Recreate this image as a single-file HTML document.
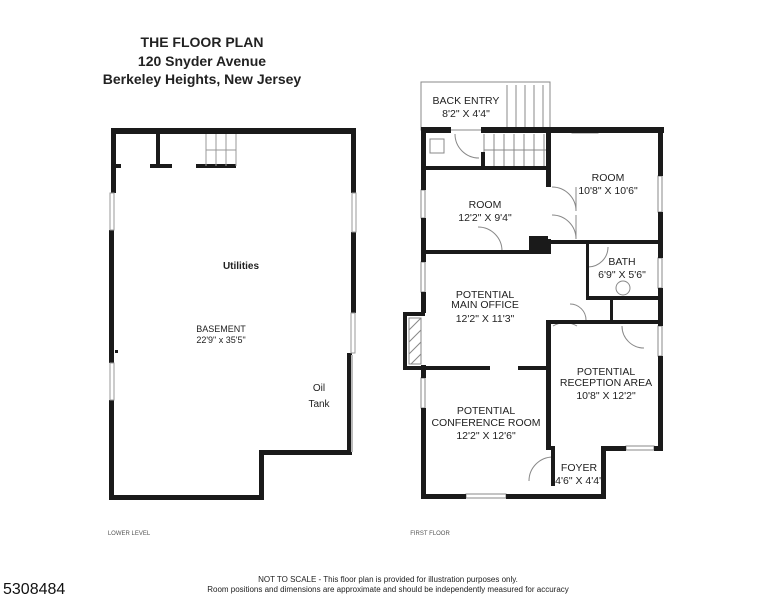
<!DOCTYPE html>
<html><head><style>
html,body{margin:0;padding:0;background:#fff;}
svg{display:block;font-family:"Liberation Sans",sans-serif;}
</style></head><body>
<svg width="776" height="600" viewBox="0 0 776 600" xmlns="http://www.w3.org/2000/svg">
<rect width="776" height="600" fill="#fff"/>
<g font-weight="bold" font-size="14" fill="#222" text-anchor="middle">
<text x="202" y="47">THE FLOOR PLAN</text>
<text x="202" y="66">120 Snyder Avenue</text>
<text x="202" y="84">Berkeley Heights, New Jersey</text>
</g>
<!-- Basement -->
<g fill="#1a1a1a">
<rect x="111" y="128" width="245" height="6"/>
<rect x="111" y="128" width="5" height="65"/>
<rect x="109" y="230" width="5" height="133"/>
<rect x="109" y="400" width="5" height="100"/>
<rect x="109" y="495" width="154" height="5"/>
<rect x="259" y="450" width="5" height="50"/>
<rect x="259" y="450" width="93" height="5"/>
<rect x="347" y="353" width="5" height="102"/>
<rect x="351" y="128" width="5" height="65"/>
<rect x="351" y="232" width="5" height="81"/>
<rect x="156" y="130" width="4" height="38"/>
<rect x="113" y="164" width="8" height="4"/>
<rect x="150" y="164" width="22" height="4"/>
<rect x="196" y="164" width="40" height="4"/>
<rect x="115" y="350" width="3" height="3"/>
</g>
<g fill="none" stroke="#999" stroke-width="1">
<rect x="110" y="193" width="4" height="37"/><rect x="110" y="363" width="4" height="37"/>
<rect x="352" y="193" width="4" height="39"/><rect x="351" y="313" width="4" height="40"/>
<line x1="352" y1="355" x2="352" y2="452" stroke="#bbb" stroke-width="2"/>
<path d="M206 134V166M216 134V166M226 134V166M236 134V166M206 150H236"/>
</g>
<g font-size="10" fill="#222" text-anchor="middle">
<text x="241" y="269" font-weight="bold">Utilities</text>
<text x="221" y="332" font-size="9">BASEMENT</text>
<text x="221" y="343" font-size="9">22'9" x 35'5"</text>
<text x="319" y="391">Oil</text>
<text x="319" y="407">Tank</text>
</g>
<!-- First floor -->
<g fill="none" stroke="#888" stroke-width="1">
<rect x="421" y="82" width="129" height="48"/>
<path d="M507 85V130M516 85V130M525 85V130M534 85V130M543 85V130"/>
<path d="M484 134V166M494 134V166M504 134V166M514 134V166M524 134V166M534 134V166M544 134V166M484 150H548"/>
<rect x="430" y="139" width="14" height="14"/>
<path d="M455 134A24 24 0 0 0 479 158"/>
<path d="M552 187A24 24 0 0 1 576 211V187"/>
<path d="M552 215A24 24 0 0 1 576 239V215"/>
<path d="M478 227A24 24 0 0 1 502 251"/>
<path d="M588 267A20 20 0 0 0 608 247"/>
<circle cx="623" cy="288" r="7"/>
<path d="M570 304A16 16 0 0 1 586 320"/>
<path d="M553 326A24 24 0 0 1 577 326M622 326A22 22 0 0 0 644 348"/>
<path d="M553 457A24 24 0 0 0 529 481"/>
<rect x="421" y="190" width="4" height="28"/><rect x="421" y="262" width="4" height="30"/>
<rect x="421" y="378" width="4" height="30"/><rect x="658" y="176" width="4" height="36"/>
<rect x="658" y="258" width="4" height="30"/><rect x="658" y="326" width="4" height="30"/>
<rect x="466" y="494" width="40" height="4"/><rect x="626" y="446" width="28" height="4"/>
<rect x="572" y="129" width="26" height="4"/>
</g>
<g fill="#1a1a1a">
<rect x="421" y="127" width="30" height="6"/><rect x="481" y="127" width="183" height="6"/>
<rect x="421" y="127" width="5" height="63"/><rect x="421" y="218" width="5" height="44"/>
<rect x="421" y="292" width="5" height="21"/><rect x="421" y="365" width="5" height="13"/>
<rect x="421" y="408" width="5" height="90"/>
<rect x="421" y="494" width="45" height="5"/><rect x="506" y="494" width="100" height="5"/>
<rect x="601" y="446" width="5" height="50"/><rect x="601" y="446" width="25" height="5"/>
<rect x="654" y="446" width="8" height="5"/>
<rect x="658" y="127" width="5" height="49"/><rect x="658" y="212" width="5" height="46"/>
<rect x="658" y="288" width="5" height="38"/><rect x="658" y="356" width="5" height="95"/>
<rect x="546" y="127" width="5" height="60"/><rect x="546" y="239" width="5" height="15"/>
<rect x="546" y="320" width="5" height="130"/><rect x="551" y="446" width="4" height="40"/>
<rect x="424" y="166" width="126" height="4"/><rect x="481" y="152" width="4" height="16"/>
<rect x="426" y="250" width="124" height="4"/><rect x="529" y="236" width="19" height="18"/>
<rect x="551" y="240" width="112" height="4"/>
<rect x="586" y="244" width="3" height="56"/><rect x="586" y="296" width="77" height="4"/>
<rect x="610" y="298" width="3" height="24"/>
<rect x="550" y="320" width="113" height="4"/>
<rect x="424" y="366" width="66" height="4"/><rect x="518" y="366" width="32" height="4"/>
<rect x="403" y="312" width="22" height="4"/><rect x="403" y="312" width="4" height="58"/>
<rect x="403" y="366" width="22" height="4"/>
</g>
<g stroke="#888" fill="none"><rect x="409" y="318" width="12" height="46"/>
<path d="M409 330L421 318M409 342L421 330M409 354L421 342M411 364L421 354"/></g>
<g font-size="10.5" fill="#222" text-anchor="middle">
<text x="466" y="104">BACK ENTRY</text><text x="466" y="117">8'2" X 4'4"</text>
<text x="608" y="181">ROOM</text><text x="608" y="194">10'8" X 10'6"</text>
<text x="485" y="208">ROOM</text><text x="485" y="221">12'2" X 9'4"</text>
<text x="622" y="265">BATH</text><text x="622" y="278">6'9" X 5'6"</text>
<text x="485" y="298">POTENTIAL</text><text x="485" y="308">MAIN OFFICE</text><text x="485" y="322">12'2" X 11'3"</text>
<text x="606" y="375">POTENTIAL</text><text x="606" y="386">RECEPTION AREA</text><text x="606" y="399">10'8" X 12'2"</text>
<text x="486" y="414">POTENTIAL</text><text x="486" y="426">CONFERENCE ROOM</text><text x="486" y="439">12'2" X 12'6"</text>
<text x="579" y="471">FOYER</text><text x="579" y="484">4'6" X 4'4"</text>
</g>
<g font-size="6" fill="#555" text-anchor="middle">
<text x="129" y="535">LOWER LEVEL</text><text x="430" y="535">FIRST FLOOR</text>
</g>
<g font-size="8" fill="#222" text-anchor="middle">
<text x="388" y="582">NOT TO SCALE - This floor plan is provided for illustration purposes only.</text>
<text x="388" y="592">Room positions and dimensions are approximate and should be independently measured for accuracy</text>
</g>
<text x="3" y="594" font-size="16" fill="#111">5308484</text>
</svg>
</body></html>
